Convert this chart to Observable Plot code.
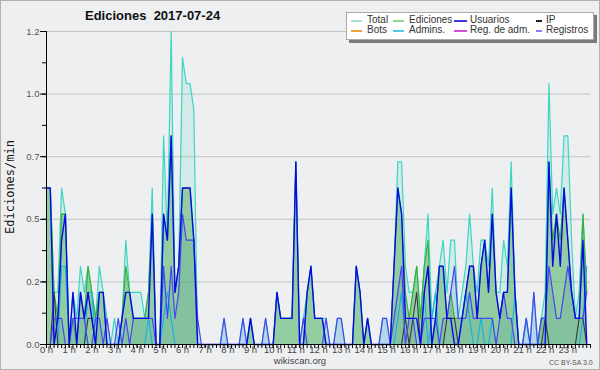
<!DOCTYPE html>
<html><head><meta charset="utf-8">
<script src="https://cdn.jsdelivr.net/npm/d3@7"></script>
<script src="https://cdn.jsdelivr.net/npm/@observablehq/plot@0.6"></script>
<style>
body{margin:0;background:#fff}
#wrap{position:relative;width:600px;height:370px;background:#eeeff1;overflow:hidden;font-family:"Liberation Sans",Arial,sans-serif}
#wrap svg{position:absolute;left:0;top:0}
#frame{position:absolute;left:0;top:0;width:598px;height:368px;border:1px solid #b0b0b0;pointer-events:none}
#title{position:absolute;left:85px;top:9px;font:bold 13px "Liberation Sans",Arial,sans-serif;line-height:13px;color:#111;white-space:pre}
#ylab{position:absolute;left:10px;top:187px;transform:translate(-50%,-50%) rotate(-90deg);transform-origin:center;font:12px "DejaVu Sans Mono",monospace;line-height:12px;color:#111;white-space:nowrap}
#legend{position:absolute;left:346px;top:12px;width:246px;height:26px;background:#fff;border:1px solid #aaa;box-shadow:3px 3px 0 #7a7a7a;font-size:10px;color:#333}
.sw{position:absolute;height:1.5px}
.lt{position:absolute;line-height:10px}
#foot{position:absolute;left:0;width:600px;top:356px;line-height:10px;text-align:center;font-size:9.5px;color:#444}
#cc{position:absolute;left:549px;top:359px;line-height:8px;font-size:7px;color:#555}
</style></head>
<body><div id="wrap"></div>
<script>
// edits per 10-minute bin, 6 bins per hour (one row per hour)
const total = [
 6,6,2,2,6,5, 0,2,1,3,2,3, 2,1,3,2,1,0, 1,0,1,4,2,2, 2,2,1,2,6,0, 0,8,4,12,2,3,
 11,10,10,9,0,0, 0,0,0,0,0,1, 0,0,0,0,1,0, 1,0,0,0,1,0, 0,2,1,1,1,1, 7,0,1,2,3,1,
 1,1,1,0,0,1, 1,0,0,0,3,2, 0,1,0,0,0,1, 1,0,3,7,7,3, 2,2,3,1,3,5, 1,2,3,4,2,4,
 4,1,2,3,5,3, 2,4,4,3,6,2, 2,4,3,7,2,0, 0,1,0,2,0,1, 2,10,5,6,5,8, 8,4,1,2,5,2];
const ediciones = [
 6,6,2,1,5,5, 0,1,0,2,1,3, 2,1,2,2,0,0, 0,0,1,3,2,1, 1,1,1,2,5,0, 0,5,4,8,2,3,
 6,6,6,4,0,0, 0,0,0,0,0,0, 0,0,0,0,0,0, 1,0,0,0,0,0, 0,2,1,1,1,1, 7,0,0,2,3,1,
 1,1,0,0,0,0, 0,0,0,0,3,2, 0,1,0,0,0,0, 0,0,3,6,5,2, 1,2,3,1,3,4, 0,1,3,3,1,2,
 1,1,1,2,3,3, 1,3,4,2,5,2, 1,2,2,6,2,0, 0,0,0,0,0,1, 1,7,4,5,4,6, 4,2,1,1,5,2];
const usuarios = [
 6,6,0,1,4,5, 0,2,0,2,1,2, 1,0,2,2,0,0, 0,0,1,2,2,1, 1,1,1,1,5,0, 0,5,4,8,2,3,
 6,6,6,4,0,0, 0,0,0,0,0,0, 0,0,0,0,0,0, 1,0,0,0,0,0, 0,2,1,1,1,1, 7,0,0,2,3,1,
 1,1,0,0,0,0, 0,0,0,0,3,2, 0,1,0,0,0,0, 0,0,3,6,5,1, 1,1,1,0,2,3, 0,1,3,3,1,1,
 0,0,1,2,3,3, 1,3,4,2,5,2, 1,2,2,6,2,0, 0,0,0,0,0,0, 0,7,3,5,3,6, 4,2,1,1,4,0];
const ip = [
 0,0,2,0,0,0, 0,0,0,0,0,1, 1,0,0,0,0,0, 0,0,0,0,0,0, 0,0,0,0,0,0, 0,0,0,0,0,0,
 0,0,0,0,0,0, 0,0,0,0,0,0, 0,0,0,0,0,0, 0,0,0,0,0,0, 0,0,0,0,0,0, 0,0,0,0,0,0,
 0,0,0,0,0,0, 0,0,0,0,0,0, 0,0,0,0,0,0, 0,0,0,0,0,1, 0,1,2,0,0,0, 0,0,0,0,1,1,
 1,0,0,0,0,0, 0,0,0,0,0,0, 0,0,0,0,0,0, 0,0,0,0,0,0, 1,0,0,0,0,0, 0,0,0,1,1,0];
const registros = [
 0,0,1,1,1,0, 0,1,1,1,1,0, 0,1,1,0,1,0, 0,1,0,1,0,1, 1,1,1,1,1,0, 0,3,1,3,1,2,
 5,4,4,4,1,0, 0,0,0,0,0,1, 0,0,0,0,1,0, 0,0,0,0,1,0, 0,0,0,0,0,0, 0,0,1,0,0,0,
 0,0,1,0,0,1, 1,0,0,0,0,0, 0,0,0,0,0,1, 1,0,1,2,3,0, 1,1,0,0,1,1, 1,1,0,1,1,2,
 3,1,1,1,2,1, 1,1,1,1,1,0, 1,2,1,1,0,0, 0,1,0,2,0,1, 1,3,2,1,1,2, 3,2,1,1,1,2];
const admins = [
 0,0,0,0,3,3, 0,0,0,0,0,2, 2,0,0,0,0,0, 0,0,0,0,0,0, 0,0,0,1,0,0, 0,1,2,1,0,0,
 0,0,0,0,0,0, 0,0,0,0,0,0, 0,0,0,0,0,0, 0,0,0,0,0,0, 0,0,0,0,0,0, 0,0,0,0,0,0,
 0,0,0,0,0,0, 0,0,0,0,0,0, 0,0,0,0,0,0, 0,0,0,1,2,0, 0,0,0,0,2,0, 1,2,0,0,0,0,
 0,0,1,2,1,0, 0,1,0,0,1,0, 0,0,0,0,2,0, 0,1,0,0,0,1, 1,0,0,0,0,0, 0,0,0,0,1,3];
const hourLabels = d3.range(24).map(h => h + " h");
const yTicks = [0, 0.24, 0.48, 0.72, 0.96, 1.2];
const legendItems = [
 ["Total","#a6e6df"],["Ediciones","#8fd68f"],["Usuarios","#3a3ae0"],["IP","#222"],
 ["Bots","#f0a040"],["Admins.","#4ccde2"],["Reg. de adm.","#d24fe0"],["Registros","#8282f2"]];

const rows = total.map((t, i) => ({
  h: i / 6, T: t / 10, E: ediciones[i] / 10, U: usuarios[i] / 10,
  I: ip[i] / 10, R: registros[i] / 10, A: admins[i] / 10
}));
const minorX = d3.range(0, 24 * 6 + 1).map(i => i / 6);
const minorY = d3.range(0, 11).map(i => i * 0.12);

const chart = Plot.plot({
  width: 600, height: 370,
  marginLeft: 46, marginRight: 10, marginTop: 31, marginBottom: 26,
  style: {background: "transparent", fontFamily: "Liberation Sans, Arial, sans-serif", fontSize: "9.5px", color: "#444", overflow: "visible"},
  x: {domain: [0, 24]},
  y: {domain: [0, 1.2]},
  marks: [
    Plot.gridY(yTicks, {stroke: "#c4c4c4", strokeOpacity: 1}),
    Plot.areaY(rows, {x: "h", y: "T", fill: "#30d0b4", fillOpacity: 0.14}),
    Plot.areaY(rows, {x: "h", y: "R", fill: "#6a9fe0", fillOpacity: 0.26}),
    Plot.areaY(rows, {x: "h", y: "E", fill: "#3ea43e", fillOpacity: 0.42}),
    Plot.lineY(rows, {x: "h", y: "T", stroke: "#3cd6c2", strokeWidth: 1.2}),
    Plot.lineY(rows, {x: "h", y: "E", stroke: "#34b034", strokeWidth: 1.1}),
    Plot.lineY(rows, {x: "h", y: "A", stroke: "#10b4e0", strokeWidth: 1.1}),
    Plot.lineY(rows, {x: "h", y: "I", stroke: "#3a3a3a", strokeWidth: 1.1}),
    Plot.lineY(rows, {x: "h", y: "R", stroke: "#4646f4", strokeWidth: 1.2}),
    Plot.lineY(rows, {x: "h", y: "U", stroke: "#0808e8", strokeWidth: 1.4}),
    Plot.ruleY([0], {stroke: "#000"}),
    Plot.ruleX([0], {stroke: "#000"}),
    Plot.axisY(yTicks, {tickFormat: d => d.toFixed(1), tickSize: 6, tickPadding: 1, label: null, stroke: "#000", fill: "#555"}),
    Plot.axisY(minorY, {tickFormat: () => "", tickSize: 4, label: null, stroke: "#000"}),
    Plot.axisX(d3.range(24), {tickFormat: d => hourLabels[d], tickSize: 4, tickPadding: -2, label: null, stroke: "#000", fill: "#444"}),
    Plot.axisX(minorX, {tickFormat: () => "", tickSize: 4, label: null, stroke: "#000"})
  ]
});
const wrap = document.getElementById("wrap");
wrap.appendChild(chart);

const add = (id, html) => { const d = document.createElement("div"); d.id = id; d.innerHTML = html; wrap.appendChild(d); return d; };
add("title", "Ediciones  2017-07-24");
add("ylab", "Ediciones/min");
const lg = add("legend", "");
const swX = [4, 46, 107, 189], txX = [20, 62, 123, 199], rowY = [7, 17];
legendItems.forEach(([name, col], k) => {
  const c = k % 4, r = Math.floor(k / 4);
  const sw = document.createElement("div"); sw.className = "sw";
  sw.style.left = swX[c] + "px"; sw.style.top = rowY[r] + "px";
  sw.style.width = (c === 3 ? 6 : c === 2 ? 13 : 11) + "px"; sw.style.background = col;
  lg.appendChild(sw);
  const t = document.createElement("div"); t.className = "lt"; t.textContent = name;
  t.style.left = txX[c] + "px"; t.style.top = (rowY[r] - 5) + "px";
  lg.appendChild(t);
});
add("foot", "wikiscan.org");
add("cc", "CC BY-SA 3.0");
add("frame", "");
</script></body></html>
